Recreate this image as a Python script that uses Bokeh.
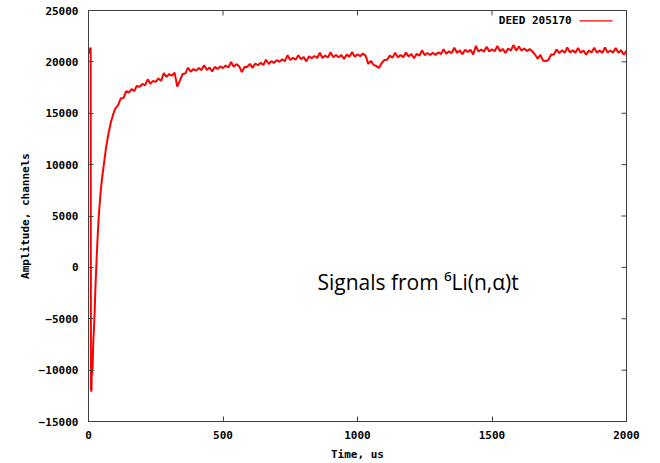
from bokeh.plotting import figure
from bokeh.models import Range1d, FixedTicker, Label, BoxAnnotation
from bokeh.embed import file_html
from bokeh.resources import INLINE

# ---- data ----
t_start = [0, 2, 4, 6, 8, 9, 11, 12, 13, 14, 16, 18, 20, 23, 26, 30, 34, 38, 44, 50, 56, 65, 74, 83, 93]
a_start = [21000, 21300, 20800, 21200, 21400, -11800, -12100, -10200, -9900, -10400, -9000, -7000, -6200,
           -4200, -1800, 700, 3000, 4900, 7000, 8600, 9800, 11600, 13000, 14100, 15000]

t_main = list(range(100, 2001, 10))
a_main = [
    15480, 15800, 16450, 16480, 17150, 17010, 17360, 17150, 17670, 17570,   # 100-190
    17850, 17710, 18300, 17870, 18150, 18050, 18390, 18150, 18900, 18540,   # 200-290
    18820, 18650, 18950, 17600, 18200, 18820, 18860, 19430, 19040, 19300,   # 300-390
    19150, 19400, 19200, 19660, 19210, 19450, 19070, 19510, 19310, 19560,   # 400-490
    19390, 19640, 19450, 20000, 19530, 19780, 19580, 19000, 19500, 19510,   # 500-590
    19810, 19420, 19840, 19670, 19910, 19690, 20200, 19800, 20070, 19910,   # 600-690
    20170, 20000, 20260, 20080, 20650, 20190, 20400, 20210, 20640, 20260,   # 700-790
    20480, 20050, 20540, 20350, 20570, 20380, 20880, 20380, 20610, 20430,   # 800-890
    20930, 20440, 20660, 20440, 20670, 20280, 20710, 20510, 20960, 20510,   # 900-990
    20740, 20550, 20820, 20610, 19800, 20100, 19700, 19580, 19400, 19890,   # 1000-1090
    20190, 20200, 20620, 20390, 20900, 20440, 20670, 20460, 20900, 20530,   # 1100-1190
    20760, 20360, 20780, 20590, 21120, 20650, 20870, 20660, 20890, 20680,   # 1200-1290
    20920, 20760, 21220, 20790, 21040, 20850, 21370, 20880, 21120, 20740,   # 1300-1390
    21170, 20960, 21180, 20730, 21540, 21010, 21200, 20980, 21480, 21000,   # 1400-1490
    21230, 21030, 21540, 21030, 21260, 20870, 21300, 21100, 21650, 21090,   # 1500-1590
    21500, 21100, 21300, 21050, 21250, 21010, 20700, 20320, 20690, 20100,   # 1600-1690
    20080, 20200, 20710, 20710, 21200, 20850, 21120, 20890, 21400, 20910,   # 1700-1790
    21120, 20900, 21350, 20890, 21100, 20700, 21110, 20910, 21380, 20900,   # 1800-1890
    21100, 20880, 21400, 20910, 21110, 20900, 21350, 20890, 21120, 20700,   # 1900-1990
    21100,                                                                  # 2000
]

time_us = t_start + t_main
amplitude = a_start + a_main

x_ticks = [0, 500, 1000, 1500, 2000]
y_ticks = [-15000, -10000, -5000, 0, 5000, 10000, 15000, 20000, 25000]
x_min, x_max = 0, 2000
y_min, y_max = -15000, 25000
series_name = "DEED 205170"
note_text = "Signals from \u2076Li(n,\u03b1)t"

MONO = "DejaVu Sans Mono"
AXIS_COLOR = "#404040"

p = figure(width=656, height=463, output_backend="svg", toolbar_location=None,
           x_range=Range1d(x_min, x_max), y_range=Range1d(y_min, y_max),
           min_border_left=88, min_border_right=30, min_border_top=10, min_border_bottom=40)
p.background_fill_color = "white"
p.border_fill_color = "white"
p.outline_line_color = AXIS_COLOR
p.outline_line_width = 1
p.xgrid.visible = False
p.ygrid.visible = False

p.line(time_us, amplitude, line_color="#ff0000", line_width=2)

def style_axis(ax, ticks):
    ax.ticker = FixedTicker(ticks=ticks)
    ax.axis_line_color = AXIS_COLOR
    ax.major_tick_line_color = AXIS_COLOR
    ax.major_tick_in = 5
    ax.major_tick_out = 0
    ax.minor_tick_line_color = None
    ax.major_label_text_font = MONO
    ax.major_label_text_font_style = "bold"
    ax.major_label_text_font_size = "11px"
    ax.major_label_text_color = "black"
    ax.axis_label_text_font = MONO
    ax.axis_label_text_font_style = "bold"
    ax.axis_label_text_font_size = "11px"
    ax.axis_label_text_color = "black"

xa = p.xaxis[0]
style_axis(xa, x_ticks)
xa.axis_label = "Time, us"
xa.major_label_standoff = 9
xa.axis_label_standoff = 6

ya = p.yaxis[0]
style_axis(ya, y_ticks)
ya.axis_label = "Amplitude, channels"
ya.major_label_standoff = 10
ya.axis_label_standoff = 4

# mirrored inward ticks on the top and right edges (gnuplot style)
tick_dy = 5 * (y_max - y_min) / 413.0
tick_dx = 5 * (x_max - x_min) / 538.0
p.segment(x0=x_ticks, y0=[y_max] * len(x_ticks), x1=x_ticks, y1=[y_max - tick_dy] * len(x_ticks),
          line_color=AXIS_COLOR, line_width=1)
p.segment(x0=[x_max] * len(y_ticks), y0=y_ticks, x1=[x_max - tick_dx] * len(y_ticks), y1=y_ticks,
          line_color=AXIS_COLOR, line_width=1)

# legend (label then line sample, as in gnuplot)
p.add_layout(Label(x=1796, y=24000, text=series_name, text_align="right", text_baseline="middle",
                   text_font=MONO, text_font_style="bold", text_font_size="11px", text_color="black"))
p.add_layout(BoxAnnotation(left=1825, right=1948, top=24060, bottom=23940,
                           fill_color="#ff0000", fill_alpha=1.0, line_color=None))

p.add_layout(Label(x=851, y=-1450, text=note_text, text_align="left", text_baseline="middle",
                   text_font="Open Sans", text_font_size="21px", text_color="black"))

open("out.html", "w").write(file_html(p, INLINE))
